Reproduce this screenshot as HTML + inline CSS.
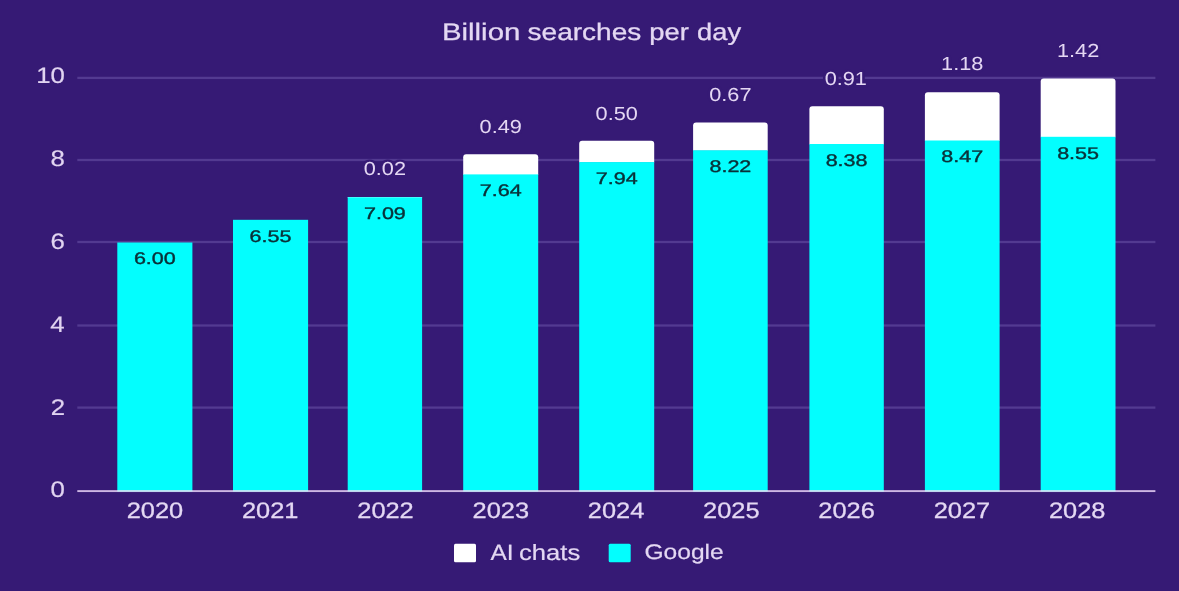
<!DOCTYPE html>
<html><head><meta charset="utf-8"><title>Billion searches per day</title>
<style>
html,body{margin:0;padding:0;background:#361a75;}
body{width:1179px;height:591px;overflow:hidden;}
svg{display:block;text-rendering:geometricPrecision;font-family:"Liberation Sans",Arial,sans-serif;}
</style></head><body>
<svg width="1179" height="591" viewBox="0 0 1179 591">
<rect width="1179" height="591" fill="#361a75"/>
<rect x="77.3" y="76.75" width="1078.1" height="2.3" fill="#533a91"/>
<rect x="77.3" y="158.85" width="1078.1" height="2.3" fill="#533a91"/>
<rect x="77.3" y="240.85" width="1078.1" height="2.3" fill="#533a91"/>
<rect x="77.3" y="324.35" width="1078.1" height="2.3" fill="#533a91"/>
<rect x="77.3" y="406.45" width="1078.1" height="2.3" fill="#533a91"/>
<rect x="117.3" y="242.5" width="75.10" height="247.90" fill="#03fefe"/>
<rect x="233.0" y="219.8" width="75.10" height="270.60" fill="#03fefe"/>
<rect x="347.7" y="197.0" width="74.40" height="1" fill="#9ffefe"/>
<rect x="347.7" y="197.4" width="74.40" height="293.00" fill="#03fefe"/>
<path d="M463.2 174.90V157.30Q463.2 154.3 466.2 154.3H535.2Q538.2 154.3 538.2 157.30V174.90Z" fill="#ffffff"/>
<rect x="463.2" y="174.4" width="75.00" height="316.00" fill="#03fefe"/>
<path d="M579.2 162.60V143.70Q579.2 140.7 582.2 140.7H651.2Q654.2 140.7 654.2 143.70V162.60Z" fill="#ffffff"/>
<rect x="579.2" y="162.1" width="75.00" height="328.30" fill="#03fefe"/>
<path d="M693.1 150.80V125.40Q693.1 122.4 696.1 122.4H764.7Q767.7 122.4 767.7 125.40V150.80Z" fill="#ffffff"/>
<rect x="693.1" y="150.3" width="74.60" height="340.10" fill="#03fefe"/>
<path d="M809.4 144.50V109.20Q809.4 106.2 812.4 106.2H880.8Q883.8 106.2 883.8 109.20V144.50Z" fill="#ffffff"/>
<rect x="809.4" y="144.0" width="74.40" height="346.40" fill="#03fefe"/>
<path d="M924.9 141.00V95.30Q924.9 92.3 927.9 92.3H996.6Q999.6 92.3 999.6 95.30V141.00Z" fill="#ffffff"/>
<rect x="924.9" y="140.5" width="74.70" height="349.90" fill="#03fefe"/>
<path d="M1040.7 137.30V81.60Q1040.7 78.6 1043.7 78.6H1112.5Q1115.5 78.6 1115.5 81.60V137.30Z" fill="#ffffff"/>
<rect x="1040.7" y="136.8" width="74.80" height="353.60" fill="#03fefe"/>
<rect x="77.3" y="490.15" width="1078.1" height="1.9" fill="#cdb7e3"/>
<rect x="117.3" y="490.15" width="75.10" height="1.35" fill="#b4f4f9"/>
<rect x="233.0" y="490.15" width="75.10" height="1.35" fill="#b4f4f9"/>
<rect x="347.7" y="490.15" width="74.40" height="1.35" fill="#b4f4f9"/>
<rect x="463.2" y="490.15" width="75.00" height="1.35" fill="#b4f4f9"/>
<rect x="579.2" y="490.15" width="75.00" height="1.35" fill="#b4f4f9"/>
<rect x="693.1" y="490.15" width="74.60" height="1.35" fill="#b4f4f9"/>
<rect x="809.4" y="490.15" width="74.40" height="1.35" fill="#b4f4f9"/>
<rect x="924.9" y="490.15" width="74.70" height="1.35" fill="#b4f4f9"/>
<rect x="1040.7" y="490.15" width="74.80" height="1.35" fill="#b4f4f9"/>
<text transform="matrix(1.4702 0 0 1.1966 441.90 39.75)" font-size="20" fill="#e4d8f3" stroke="#e4d8f3" stroke-width="0.225" stroke-linejoin="round">Billion</text>
<text transform="matrix(1.4005 0 0 1.1966 527.61 39.75)" font-size="20" fill="#e4d8f3" stroke="#e4d8f3" stroke-width="0.231" stroke-linejoin="round">searches</text>
<text transform="matrix(1.3676 0 0 1.1966 649.27 39.75)" font-size="20" fill="#e4d8f3" stroke="#e4d8f3" stroke-width="0.234" stroke-linejoin="round">per</text>
<text transform="matrix(1.3642 0 0 1.1966 697.06 39.75)" font-size="20" fill="#e4d8f3" stroke="#e4d8f3" stroke-width="0.234" stroke-linejoin="round">day</text>
<text transform="matrix(1.2898 0 0 1.1268 36.15 83.30)" font-size="20" fill="#e1d4f1" stroke="#e1d4f1" stroke-width="0.166" stroke-linejoin="round">10</text>
<text transform="matrix(1.2898 0 0 1.1268 50.46 166.20)" font-size="20" fill="#e1d4f1" stroke="#e1d4f1" stroke-width="0.166" stroke-linejoin="round">8</text>
<text transform="matrix(1.2898 0 0 1.1268 50.59 248.60)" font-size="20" fill="#e1d4f1" stroke="#e1d4f1" stroke-width="0.166" stroke-linejoin="round">6</text>
<text transform="matrix(1.2898 0 0 1.1268 50.21 331.60)" font-size="20" fill="#e1d4f1" stroke="#e1d4f1" stroke-width="0.166" stroke-linejoin="round">4</text>
<text transform="matrix(1.2898 0 0 1.1268 50.72 414.60)" font-size="20" fill="#e1d4f1" stroke="#e1d4f1" stroke-width="0.166" stroke-linejoin="round">2</text>
<text transform="matrix(1.2898 0 0 1.1268 50.46 496.80)" font-size="20" fill="#e1d4f1" stroke="#e1d4f1" stroke-width="0.166" stroke-linejoin="round">0</text>
<text transform="matrix(1.2693 0 0 1.1127 154.95 518.33)" font-size="20" fill="#e4d8f3" stroke="#e4d8f3" stroke-width="0.252" stroke-linejoin="round" text-anchor="middle">2020</text>
<text transform="matrix(1.2693 0 0 1.1127 270.23 518.33)" font-size="20" fill="#e4d8f3" stroke="#e4d8f3" stroke-width="0.252" stroke-linejoin="round" text-anchor="middle">2021</text>
<text transform="matrix(1.2693 0 0 1.1127 385.50 518.33)" font-size="20" fill="#e4d8f3" stroke="#e4d8f3" stroke-width="0.252" stroke-linejoin="round" text-anchor="middle">2022</text>
<text transform="matrix(1.2693 0 0 1.1127 500.78 518.33)" font-size="20" fill="#e4d8f3" stroke="#e4d8f3" stroke-width="0.252" stroke-linejoin="round" text-anchor="middle">2023</text>
<text transform="matrix(1.2693 0 0 1.1127 616.05 518.33)" font-size="20" fill="#e4d8f3" stroke="#e4d8f3" stroke-width="0.252" stroke-linejoin="round" text-anchor="middle">2024</text>
<text transform="matrix(1.2693 0 0 1.1127 731.33 518.33)" font-size="20" fill="#e4d8f3" stroke="#e4d8f3" stroke-width="0.252" stroke-linejoin="round" text-anchor="middle">2025</text>
<text transform="matrix(1.2693 0 0 1.1127 846.60 518.33)" font-size="20" fill="#e4d8f3" stroke="#e4d8f3" stroke-width="0.252" stroke-linejoin="round" text-anchor="middle">2026</text>
<text transform="matrix(1.2693 0 0 1.1127 961.88 518.33)" font-size="20" fill="#e4d8f3" stroke="#e4d8f3" stroke-width="0.252" stroke-linejoin="round" text-anchor="middle">2027</text>
<text transform="matrix(1.2693 0 0 1.1127 1077.15 518.33)" font-size="20" fill="#e4d8f3" stroke="#e4d8f3" stroke-width="0.252" stroke-linejoin="round" text-anchor="middle">2028</text>
<text transform="matrix(1.0768 0 0 0.8415 154.85 264.21)" font-size="20" fill="#0a3138" stroke="#0a3138" stroke-width="0.469" stroke-linejoin="round" text-anchor="middle">6.00</text>
<text transform="matrix(1.0768 0 0 0.8415 270.55 241.51)" font-size="20" fill="#0a3138" stroke="#0a3138" stroke-width="0.469" stroke-linejoin="round" text-anchor="middle">6.55</text>
<text transform="matrix(1.0768 0 0 0.8415 384.90 219.11)" font-size="20" fill="#0a3138" stroke="#0a3138" stroke-width="0.469" stroke-linejoin="round" text-anchor="middle">7.09</text>
<text transform="matrix(1.0768 0 0 0.8415 500.70 196.11)" font-size="20" fill="#0a3138" stroke="#0a3138" stroke-width="0.469" stroke-linejoin="round" text-anchor="middle">7.64</text>
<text transform="matrix(1.0768 0 0 0.8415 616.70 183.81)" font-size="20" fill="#0a3138" stroke="#0a3138" stroke-width="0.469" stroke-linejoin="round" text-anchor="middle">7.94</text>
<text transform="matrix(1.0768 0 0 0.8415 730.40 172.01)" font-size="20" fill="#0a3138" stroke="#0a3138" stroke-width="0.469" stroke-linejoin="round" text-anchor="middle">8.22</text>
<text transform="matrix(1.0768 0 0 0.8415 846.60 165.71)" font-size="20" fill="#0a3138" stroke="#0a3138" stroke-width="0.469" stroke-linejoin="round" text-anchor="middle">8.38</text>
<text transform="matrix(1.0768 0 0 0.8415 962.25 162.21)" font-size="20" fill="#0a3138" stroke="#0a3138" stroke-width="0.469" stroke-linejoin="round" text-anchor="middle">8.47</text>
<text transform="matrix(1.0768 0 0 0.8415 1078.10 158.51)" font-size="20" fill="#0a3138" stroke="#0a3138" stroke-width="0.469" stroke-linejoin="round" text-anchor="middle">8.55</text>
<text transform="matrix(1.0860 0 0 0.9437 384.90 175.11)" font-size="20" fill="#e4d7f3" stroke="#361a75" stroke-width="4.927" stroke-linejoin="round" paint-order="stroke" text-anchor="middle">0.02</text>
<text transform="matrix(1.0860 0 0 0.9437 500.70 133.11)" font-size="20" fill="#e4d7f3" stroke="#361a75" stroke-width="4.927" stroke-linejoin="round" paint-order="stroke" text-anchor="middle">0.49</text>
<text transform="matrix(1.0860 0 0 0.9437 616.70 120.41)" font-size="20" fill="#e4d7f3" stroke="#361a75" stroke-width="4.927" stroke-linejoin="round" paint-order="stroke" text-anchor="middle">0.50</text>
<text transform="matrix(1.0860 0 0 0.9437 730.40 101.21)" font-size="20" fill="#e4d7f3" stroke="#361a75" stroke-width="4.927" stroke-linejoin="round" paint-order="stroke" text-anchor="middle">0.67</text>
<text transform="matrix(1.0860 0 0 0.9437 845.80 85.21)" font-size="20" fill="#e4d7f3" stroke="#361a75" stroke-width="4.927" stroke-linejoin="round" paint-order="stroke" text-anchor="middle">0.91</text>
<text transform="matrix(1.0860 0 0 0.9437 962.25 70.11)" font-size="20" fill="#e4d7f3" stroke="#361a75" stroke-width="4.927" stroke-linejoin="round" paint-order="stroke" text-anchor="middle">1.18</text>
<text transform="matrix(1.0860 0 0 0.9437 1078.10 56.91)" font-size="20" fill="#e4d7f3" stroke="#361a75" stroke-width="4.927" stroke-linejoin="round" paint-order="stroke" text-anchor="middle">1.42</text>
<rect x="454" y="543.8" width="22" height="18.4" rx="1.5" fill="#ffffff"/>
<rect x="608.7" y="543.7" width="22" height="18.5" rx="1.5" fill="#03fefe"/>
<text transform="matrix(1.2249 0 0 1.1014 490.38 559.60)" font-size="20" fill="#e4d8f3" stroke="#e4d8f3" stroke-width="0.172" stroke-linejoin="round">AI</text>
<text transform="matrix(1.2803 0 0 1.0966 519.00 559.60)" font-size="20" fill="#e4d8f3" stroke="#e4d8f3" stroke-width="0.168" stroke-linejoin="round">chats</text>
<text transform="matrix(1.2284 0 0 1.0535 644.47 559.28)" font-size="20" fill="#e4d8f3" stroke="#e4d8f3" stroke-width="0.175" stroke-linejoin="round">Google</text>
</svg>
</body></html>
